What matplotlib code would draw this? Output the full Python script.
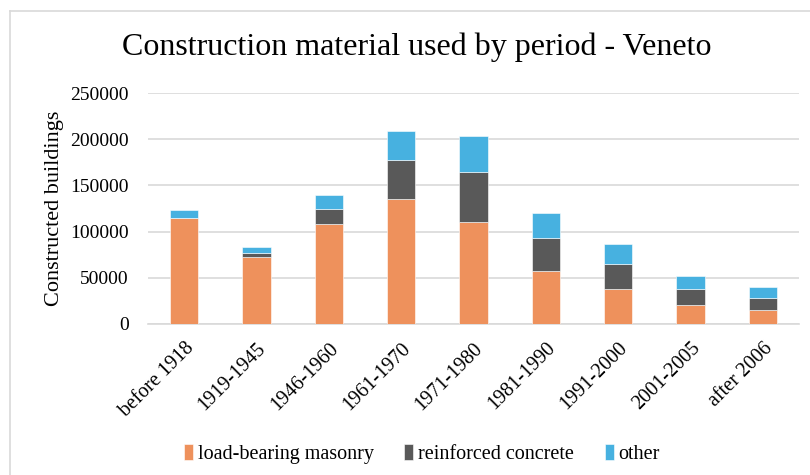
import numpy as np
import matplotlib
matplotlib.use("Agg")
import matplotlib.pyplot as plt
from matplotlib.lines import Line2D

periods = ["before 1918", "1919-1945", "1946-1960", "1961-1970", "1971-1980",
           "1981-1990", "1991-2000", "2001-2005", "after 2006"]
masonry  = [114500, 72700, 107800, 135300, 110300, 56800, 38000, 20300, 14800]
concrete = [500, 3600, 17000, 42700, 54000, 36500, 27100, 17000, 12700]
other    = [8000, 6900, 14500, 31500, 39400, 26800, 21400, 14100, 12700]

series = ["load-bearing masonry", "reinforced concrete", "other"]
colors = ["#EE915C", "#595959", "#47B1E0"]

plt.rcParams["font.family"] = ["Liberation Serif", "DejaVu Serif"]

fig = plt.figure(figsize=(8.1, 4.75), dpi=100)
ax = fig.add_axes([148 / 810, 1 - 323.7 / 475, 651 / 810, (323.7 - 93.3) / 475])

x = np.arange(len(periods))
bottom = np.zeros(len(periods))
for vals, name, c in zip([masonry, concrete, other], series, colors):
    ax.bar(x, vals, width=0.39, bottom=bottom, color=c, label=name,
           edgecolor="white", linewidth=0.4, zorder=3)
    bottom += np.array(vals)

ax.set_xlim(-0.5, len(periods) - 0.5)
ax.set_ylim(0, 250000)
ax.set_yticks(range(0, 250001, 50000))
ax.tick_params(axis="y", labelsize=14, length=0, pad=14)
ax.tick_params(axis="x", labelsize=14.5, length=0, pad=11)
ax.set_xticks(x)
ax.set_xticklabels(periods, rotation=45, ha="right", rotation_mode="anchor")
ax.grid(axis="y", color="#D9D9D9", linewidth=1.2, zorder=0)
for s in ["top", "right", "left"]:
    ax.spines[s].set_visible(False)
ax.spines["bottom"].set_color("#D9D9D9")
ax.spines["bottom"].set_linewidth(1.2)

ax.set_ylabel("Constructed buildings", fontsize=16, labelpad=4)
fig.text(0.514, 1 - 47 / 475, "Construction material used by period - Veneto",
         ha="center", va="center", fontsize=23)

handles, labels = ax.get_legend_handles_labels()
fig.legend(handles, labels, loc="center", bbox_to_anchor=(0.521, 1 - 454 / 475),
           ncol=3, frameon=False, fontsize=14.5, handlelength=0.45, handleheight=0.8,
           handletextpad=0.25, columnspacing=1.5)

# chart area border (top and left edges visible)
fig.add_artist(Line2D([10 / 810, 10 / 810], [0, 1 - 11 / 475], color="#D9D9D9",
                      linewidth=1.2, transform=fig.transFigure))
fig.add_artist(Line2D([10 / 810, 1], [1 - 11 / 475, 1 - 11 / 475], color="#D9D9D9",
                      linewidth=1.2, transform=fig.transFigure))

fig.savefig("out.png", dpi=100)
